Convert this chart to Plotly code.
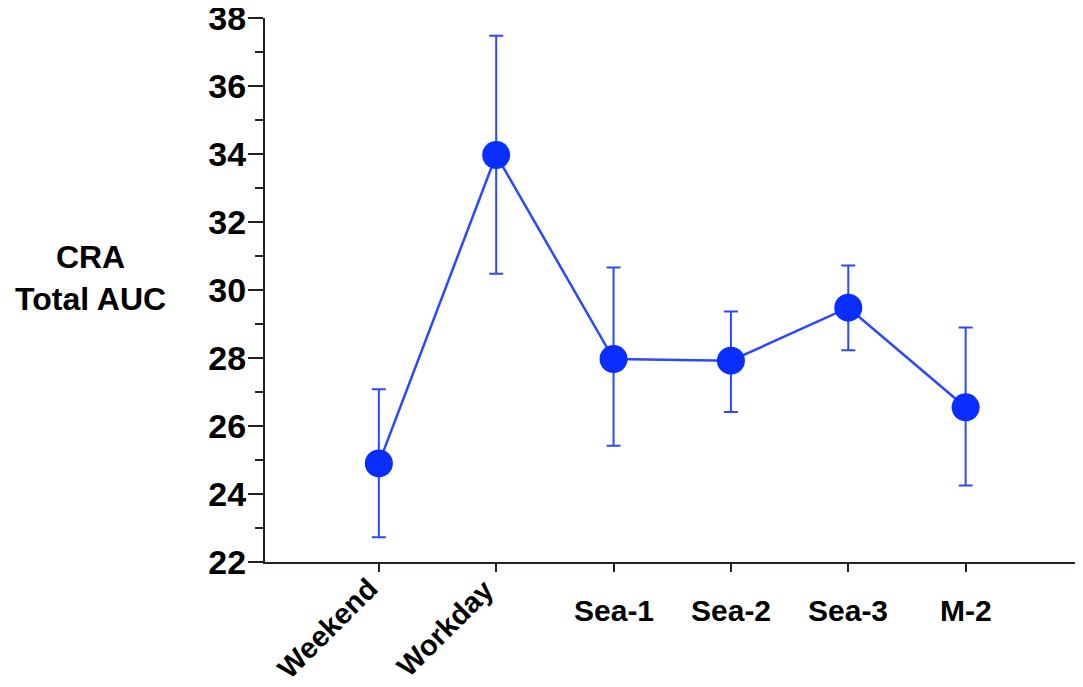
import plotly.graph_objects as go

categories = ["Weekend", "Workday", "Sea-1", "Sea-2", "Sea-3", "M-2"]
means = [24.9, 33.97, 27.97, 27.92, 29.48, 26.55]
upper = [27.08, 37.48, 30.66, 29.37, 30.72, 28.9]
lower = [22.73, 30.48, 25.42, 26.41, 28.23, 24.25]
rotated = [True, True, False, False, False, False]
y_ticks = [22, 24, 26, 28, 30, 32, 34, 36, 38]

xs = list(range(len(categories)))
err_plus = [u - m for u, m in zip(upper, means)]
err_minus = [m - l for m, l in zip(means, lower)]

BLUE = "#0A2EFF"
AXIS = "#2A1E1E"
FONT = "Liberation Sans, Arial, sans-serif"

fig = go.Figure()
fig.add_trace(go.Scatter(
    x=xs, y=means, mode="lines+markers",
    line=dict(color="#2A48FF", width=2.5),
    marker=dict(color=BLUE, size=28, line=dict(width=0)),
    error_y=dict(type="data", symmetric=False, array=err_plus, arrayminus=err_minus,
                 color="#2A48FF", thickness=2, width=7),
    showlegend=False,
))

annotations = []
for i, (cat, rot) in enumerate(zip(categories, rotated)):
    if rot:
        annotations.append(dict(
            x=i, y=0, xref="x", yref="paper", text=f"<b>{cat}</b>", showarrow=False,
            textangle=-45, xanchor="center", yanchor="middle",
            xshift=-51, yshift=-66, font=dict(family=FONT, size=29, color="black")))
    else:
        annotations.append(dict(
            x=i, y=0, xref="x", yref="paper", text=f"<b>{cat}</b>", showarrow=False,
            xanchor="center", yanchor="middle", yshift=-48,
            font=dict(family=FONT, size=30, color="black")))

annotations.append(dict(
    x=(90 - 265) / 818, y=0.522, xref="paper", yref="paper",
    text="<b>CRA<br>Total AUC</b>", showarrow=False, align="center",
    xanchor="center", yanchor="middle",
    font=dict(family=FONT, size=32, color="black")))

fig.update_layout(
    width=1083, height=687,
    margin=dict(l=257, r=8, t=10, b=133, autoexpand=False),
    paper_bgcolor="white", plot_bgcolor="white",
    annotations=annotations,
    xaxis=dict(
        range=[-0.97, 6.0], tickvals=xs, ticktext=["" for _ in xs], automargin=False,
        showgrid=False, zeroline=False, showline=True, linecolor=AXIS, linewidth=2,
        ticks="outside", ticklen=8, tickwidth=1.5, tickcolor=AXIS,
    ),
    yaxis=dict(
        range=[22, 38], tickvals=y_ticks, showgrid=False, zeroline=False, automargin=False,
        showline=True, linecolor=AXIS, linewidth=2,
        ticks="outside", ticklen=15, tickwidth=1.5, tickcolor=AXIS,
        tickfont=dict(family=FONT, size=34, color="black", weight="bold"),
        ticklabeloverflow="allow", ticklabelstandoff=-5,
        minor=dict(ticks="outside", ticklen=8, tickwidth=1.5, tickcolor=AXIS, dtick=1, showgrid=False),
    ),
)

fig.write_html("out.html")
